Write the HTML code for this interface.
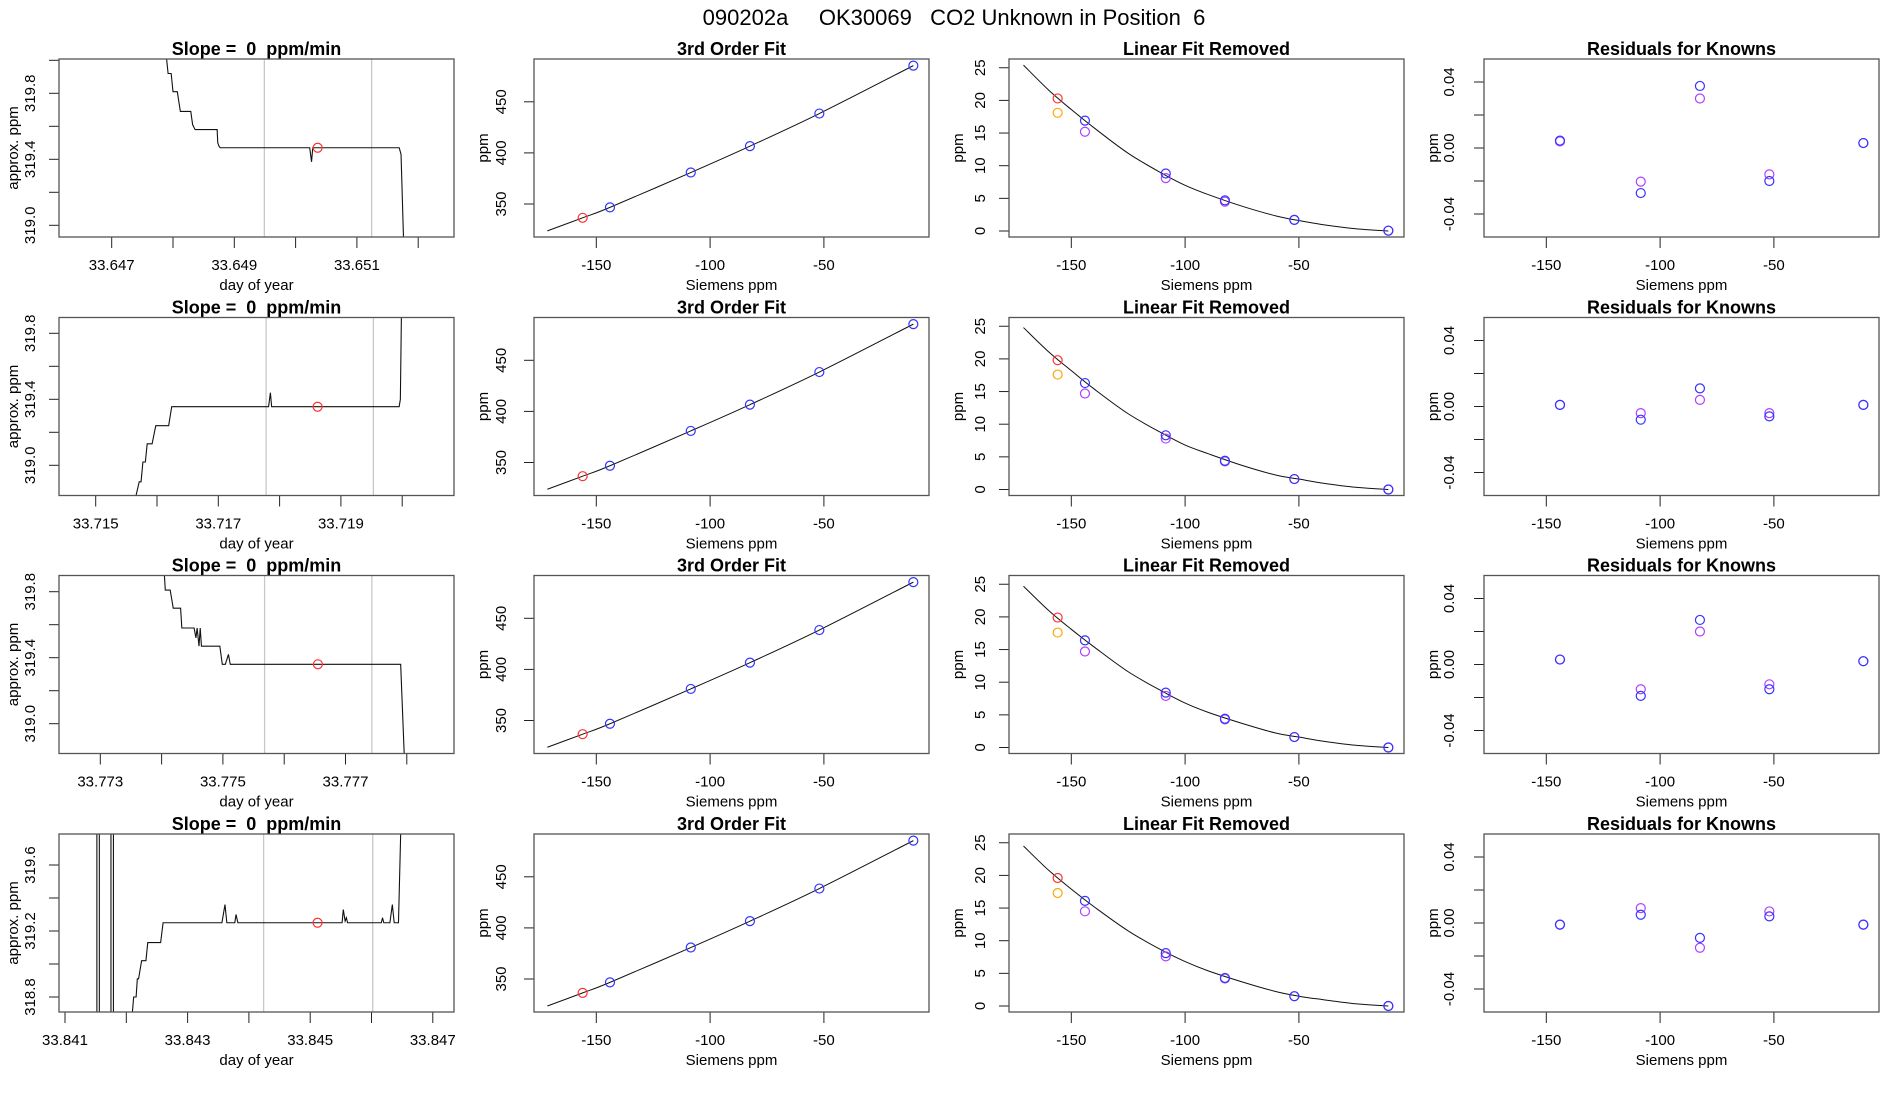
<!DOCTYPE html>
<html><head><meta charset="utf-8"><style>
html,body{margin:0;padding:0;background:#fff;}
svg{display:block;font-family:"Liberation Sans",Arial,sans-serif;}
text{white-space:pre;}
</style></head><body>
<svg id="chart" width="1900" height="1100" viewBox="0 0 1900 1100" xmlns="http://www.w3.org/2000/svg">
<rect width="1900" height="1100" fill="#fff"/>
<text x="954" y="25" font-size="22" text-anchor="middle" style="white-space:pre">090202a     OK30069   CO2 Unknown in Position  6</text>
</svg>
<script>
// ---- Data ----
const tsRow1 = [[33.64787,320.1],[33.64792,319.92],[33.64797,319.92],[33.64800,319.81],[33.64807,319.81],[33.64812,319.69],[33.64829,319.69],[33.64832,319.61],[33.64836,319.58],[33.64872,319.58],[33.64873,319.50],[33.64875,319.48],[33.64877,319.47],[33.65023,319.47],[33.65026,319.385],[33.65028,319.47],[33.65169,319.47],[33.65172,319.43],[33.65177,318.8]];
const tsRow2 = [[33.71566,318.82],[33.71571,318.90],[33.71574,318.90],[33.71577,319.02],[33.71581,319.02],[33.71584,319.13],[33.71592,319.13],[33.71598,319.24],[33.71619,319.24],[33.71624,319.355],[33.71782,319.355],[33.71785,319.44],[33.71787,319.355],[33.71995,319.355],[33.71997,319.40],[33.71999,320.0]];
const tsRow3 = [[33.77403,320.0],[33.77406,319.81],[33.77414,319.81],[33.77419,319.70],[33.77431,319.70],[33.77433,319.58],[33.77453,319.58],[33.77456,319.52],[33.77458,319.58],[33.77461,319.47],[33.77463,319.58],[33.77465,319.47],[33.77495,319.47],[33.77499,319.36],[33.77504,319.36],[33.77509,319.42],[33.77512,319.36],[33.77790,319.36],[33.77797,318.7]];
const tsRow4 = [[33.84152,318.6],[33.84152,320.0],[33.84156,320.0],[33.84156,318.6],[33.84175,318.6],[33.84175,320.0],[33.84179,320.0],[33.84179,318.6],[33.84210,318.6],[33.84210,318.71],[33.84212,318.80],[33.84216,318.80],[33.84218,318.91],[33.84220,318.91],[33.84225,319.02],[33.84232,319.02],[33.84235,319.13],[33.84256,319.13],[33.84260,319.25],[33.84356,319.25],[33.84361,319.36],[33.84364,319.25],[33.84377,319.25],[33.84379,319.30],[33.84382,319.25],[33.84552,319.25],[33.84554,319.33],[33.84557,319.26],[33.84559,319.28],[33.84561,319.25],[33.84616,319.25],[33.84618,319.28],[33.84620,319.25],[33.84630,319.25],[33.84634,319.36],[33.84637,319.25],[33.84644,319.25],[33.84649,320.0]];
const tsSeries = [tsRow1, tsRow2, tsRow3, tsRow4];
const unkPoint = [[33.65036,319.47],[33.71862,319.355],[33.77655,319.36],[33.84512,319.25]];
const grayLines = [[33.64949,33.65124],[33.71778,33.71953],[33.77568,33.77743],[33.84424,33.84602]];
const xTickStart = [33.647,33.715,33.773,33.841];
const xTickCount = [6,6,6,7];
const yTickStart = [319.0,319.0,319.0,318.8];
const yTickCount = [6,5,5,5];
const xAnchorVal = [33.647,33.715,33.773,33.841];
const yAnchorVal = [319.0,319.0,319.0,318.8];

const siemensX = [-156,-144,-108.5,-82.5,-52,-10.7];
const fitStartX = -171.5;
const fitRow1 = [336.5,346.7,380.8,406.6,438.5,485.4];
const fitRow2 = [336.6,346.8,380.9,406.6,438.5,485.4];
const fitRow3 = [336.6,346.8,380.9,406.6,438.5,485.4];
const fitRow4 = [336.4,346.7,380.8,406.6,438.5,485.4];
const fitRows = [fitRow1,fitRow2,fitRow3,fitRow4];
const fitStartY = [323.7,323.8,323.8,323.6];

const linCurveX = [-171,-160,-150,-140,-125,-110,-100,-90,-75,-60,-50,-40,-25,-10.7];
const linCurve1 = [25.4,21.6,18.6,15.8,11.9,8.8,7.0,5.6,3.8,2.3,1.6,1.0,0.35,0];
const linCurve2 = [24.8,21.1,18.2,15.4,11.6,8.6,6.8,5.5,3.7,2.2,1.6,1.0,0.34,0];
const linCurve3 = [24.7,21.0,18.1,15.4,11.6,8.6,6.8,5.4,3.7,2.2,1.6,1.0,0.34,0];
const linCurve4 = [24.5,20.8,17.9,15.2,11.5,8.5,6.8,5.4,3.7,2.2,1.5,1.0,0.34,0];
const linCurveRows = [linCurve1,linCurve2,linCurve3,linCurve4];
const linAX = [-156,-144,-108.5,-82.5,-52,-10.7];
const linA1 = [20.3,16.9,8.8,4.7,1.7,0.05];
const linA2 = [19.8,16.3,8.3,4.4,1.6,0.0];
const linA3 = [19.9,16.4,8.4,4.4,1.6,0.0];
const linA4 = [19.6,16.1,8.1,4.3,1.5,0.0];
const linB1 = [18.1,15.2,8.1,4.5,1.7,0.05];
const linB2 = [17.6,14.7,7.8,4.3,1.6,0.0];
const linB3 = [17.6,14.7,7.9,4.3,1.6,0.0];
const linB4 = [17.3,14.5,7.6,4.2,1.5,0.0];
const linA = [linA1,linA2,linA3,linA4];
const linB = [linB1,linB2,linB3,linB4];

const resX = [-144,-108.5,-82.5,-52,-10.7];
const resBlue1 = [0.0045,-0.0273,0.0376,-0.020,0.003];
const resPurp1 = [0.004,-0.0204,0.030,-0.016,0.003];
const resBlue2 = [0.001,-0.008,0.011,-0.006,0.001];
const resPurp2 = [0.001,-0.004,0.004,-0.004,0.001];
const resBlue3 = [0.003,-0.019,0.027,-0.015,0.002];
const resPurp3 = [0.003,-0.015,0.020,-0.012,0.002];
const resBlue4 = [-0.001,0.005,-0.009,0.004,-0.001];
const resPurp4 = [-0.001,0.009,-0.015,0.007,-0.001];
const resBlue = [resBlue1,resBlue2,resBlue3,resBlue4];
const resPurp = [resPurp1,resPurp2,resPurp3,resPurp4];

// ---- Drawing ----
const NS = "http://www.w3.org/2000/svg";
const svg = document.getElementById('chart');
const W = 395, H = 178;
const colLeft = [59,534,1009,1484];
const rowTop = [59,317.5,575.5,834];
const xAnchorPx = [52.7,36.7,41.3,6];
const yAnchorPx = [166.3,147.8,148.2,163];
const BLUE="#3333ff", PURP="#b040ff", RED="#ff3030", ORANGE="#ffa500";

function el(tag, attrs, parent){
  const e = document.createElementNS(NS, tag);
  for (const k in attrs) e.setAttribute(k, attrs[k]);
  (parent||svg).appendChild(e);
  return e;
}
function fmt(v,d){ return v.toFixed(d); }
function smooth(pts){
  let d = "M"+pts[0][0]+","+pts[0][1];
  for (let i=0;i<pts.length-1;i++){
    const p0=pts[Math.max(0,i-1)],p1=pts[i],p2=pts[i+1],p3=pts[Math.min(pts.length-1,i+2)];
    const c1=[p1[0]+(p2[0]-p0[0])/6,p1[1]+(p2[1]-p0[1])/6];
    const c2=[p2[0]-(p3[0]-p1[0])/6,p2[1]-(p3[1]-p1[1])/6];
    d+=" C"+c1[0]+","+c1[1]+" "+c2[0]+","+c2[1]+" "+p2[0]+","+p2[1];
  }
  return d;
}

function frame(g, L, T, title, xlabel, ylabel){
  const t = el('text',{x:L+W/2,y:T-4,'font-size':18,'font-weight':'bold','text-anchor':'middle',style:'white-space:pre'},g);
  t.textContent = title;
  
  
  const xl = el('text',{x:L+W/2,y:T+H+53,'font-size':15,'text-anchor':'middle'},g);
  xl.textContent = xlabel;
  
  
  const yx = L-(ylabel==='approx. ppm'?41:46);
  const yl = el('text',{x:yx,y:T+H/2,'font-size':15,'text-anchor':'middle',transform:'rotate(-90 '+yx+' '+(T+H/2)+')'},g);
  yl.textContent = ylabel;
  
  
}
function box(g,L,T){
  const b = el('rect',{x:L,y:T,width:W,height:H,fill:'none',stroke:'#555','stroke-width':1.3},g);
  
  
}
function xAxis(g,L,T,ticks,labels,xs){
  const y0=T+H;
  el('line',{x1:xs(ticks[0]),x2:xs(ticks[ticks.length-1]),y1:y0,y2:y0,stroke:'#222','stroke-width':1},g);
  ticks.forEach((v,i)=>{
    const x=xs(v);
    const tk = el('line',{x1:x,x2:x,y1:y0,y2:y0+11,stroke:'#222','stroke-width':1},g);
    
    
    if(labels[i]!==null){
      const t=el('text',{x:x,y:y0+33,'font-size':15,'text-anchor':'middle'},g);
      t.textContent=labels[i];
      
      
    }
  });
}
function yAxis(g,L,T,ticks,labels,ys,off){
  el('line',{x1:L,x2:L,y1:ys(ticks[0]),y2:ys(ticks[ticks.length-1]),stroke:'#222','stroke-width':1},g);
  ticks.forEach((v,i)=>{
    const y=ys(v);
    const tk = el('line',{x1:L-10,x2:L,y1:y,y2:y,stroke:'#222','stroke-width':1},g);
    
    
    if(labels[i]!==null){
      const x=L-off;
      const t=el('text',{x:x,y:y,'font-size':15,'text-anchor':'middle',transform:'rotate(-90 '+x+' '+y+')'},g);
      t.textContent=labels[i];
      
      
    }
  });
}
function circle(g,x,y,color,name){
  const c=el('circle',{cx:x,cy:y,r:4.5,fill:'none',stroke:color,'stroke-width':1.2},g);
  
  
}

const defs = el('defs',{});
for (let r=0;r<4;r++){
  const T=rowTop[r];
  for (let c=0;c<4;c++){
    const cp=el('clipPath',{id:'clip'+r+'_'+c},defs);
    el('rect',{x:colLeft[c],y:T,width:W,height:H},cp);
  }

  {
    const L=colLeft[0];
    const g=el('g',{});
    
    
    const xs=v=>L+xAnchorPx[r]+(v-xAnchorVal[r])*61300;
    const ys=v=>T+yAnchorPx[r]-(v-yAnchorVal[r])*165;
    frame(g,L,T,'Slope =  0  ppm/min','day of year','approx. ppm');
    grayLines[r].forEach(t=>{
      const gl=el('line',{x1:xs(t),x2:xs(t),y1:T,y2:T+H,stroke:'#c8c8c8','stroke-width':1.3},g);
      
      
    });
    const d=tsSeries[r].map((p,i)=>(i?'L':'M')+xs(p[0]).toFixed(2)+','+ys(p[1]).toFixed(2)).join(' ');
    const ln=el('path',{d:d,fill:'none',stroke:'#111','stroke-width':1.1,'clip-path':'url(#clip'+r+'_0)'},g);
    
    
    circle(g,xs(unkPoint[r][0]),ys(unkPoint[r][1]),RED,'unknown-mean-point');
    const xt=[],xl=[];
    for(let i=0;i<xTickCount[r];i++){const v=xTickStart[r]+i*0.001;xt.push(v);xl.push(i%2===0?fmt(v,3):null);}
    xAxis(g,L,T,xt,xl,xs);
    const yt=[],yl=[];
    for(let i=0;i<yTickCount[r];i++){const v=yTickStart[r]+i*0.2;yt.push(v);yl.push(i%2===0?fmt(v,1):null);}
    yAxis(g,L,T,yt,yl,ys,24);
    box(g,L,T);
  }

  const sx=(L)=>(v=>L+62.3+(v+150)*2.276);
  const sTicks=[-150,-100,-50], sLabels=['-150','-100','-50'];

  {
    const L=colLeft[1];
    const g=el('g',{});
    
    
    const xs=sx(L);
    const ys=v=>T+145-(v-350)*1.022;
    frame(g,L,T,'3rd Order Fit','Siemens ppm','ppm');
    const pts=[[xs(fitStartX),ys(fitStartY[r])]].concat(siemensX.map((x,i)=>[xs(x),ys(fitRows[r][i])]));
    const ln=el('path',{d:smooth(pts),fill:'none',stroke:'#111','stroke-width':1},g);
    
    
    siemensX.forEach((x,i)=>circle(g,xs(x),ys(fitRows[r][i]),i===0?RED:BLUE,i===0?'unknown-point':'standard-point'));
    xAxis(g,L,T,sTicks,sLabels,xs);
    yAxis(g,L,T,[350,400,450],['350','400','450'],ys,28);
    box(g,L,T);
  }

  {
    const L=colLeft[2];
    const g=el('g',{});
    
    
    const xs=sx(L);
    const ys=v=>T+172-v*6.53;
    frame(g,L,T,'Linear Fit Removed','Siemens ppm','ppm');
    const pts=linCurveX.map((x,i)=>[xs(x),ys(linCurveRows[r][i])]);
    const ln=el('path',{d:smooth(pts),fill:'none',stroke:'#111','stroke-width':1},g);
    
    
    linAX.forEach((x,i)=>{
      circle(g,xs(x),ys(linB[r][i]),i===0?ORANGE:PURP,'second-run-point');
      circle(g,xs(x),ys(linA[r][i]),i===0?RED:BLUE,'first-run-point');
    });
    xAxis(g,L,T,sTicks,sLabels,xs);
    yAxis(g,L,T,[0,5,10,15,20,25],['0','5','10','15','20','25'],ys,24);
    box(g,L,T);
  }

  {
    const L=colLeft[3];
    const g=el('g',{});
    
    
    const xs=sx(L);
    const ys=v=>T+89-v*1650;
    frame(g,L,T,'Residuals for Knowns','Siemens ppm','ppm');
    resX.forEach((x,i)=>{
      circle(g,xs(x),ys(resPurp[r][i]),PURP,'residual-point-run2');
      circle(g,xs(x),ys(resBlue[r][i]),BLUE,'residual-point-run1');
    });
    xAxis(g,L,T,sTicks,sLabels,xs);
    yAxis(g,L,T,[-0.04,-0.02,0,0.02,0.04],['-0.04',null,'0.00',null,'0.04'],ys,30);
    box(g,L,T);
  }
}
</script>
</body></html>
